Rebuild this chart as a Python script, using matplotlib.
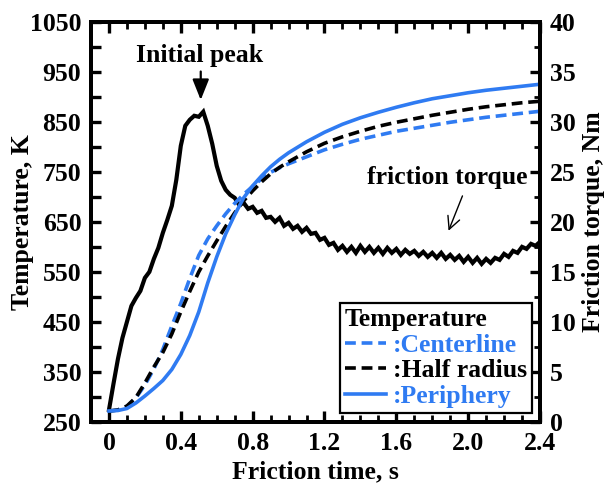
import numpy as np
import matplotlib
matplotlib.use("Agg")
import matplotlib.pyplot as plt
from matplotlib.ticker import MultipleLocator

plt.rcParams['font.family'] = ['Liberation Serif', 'DejaVu Serif']
plt.rcParams['font.weight'] = 'bold'
plt.rcParams['axes.labelweight'] = 'bold'
FS = 18.5
plt.rcParams['font.size'] = FS

BLUE = '#2F7BF2'

# ---- temperature data (K) ----
temp_time = [0.0, 0.05, 0.1, 0.15, 0.2, 0.25, 0.3, 0.35, 0.4, 0.45, 0.5, 0.55, 0.6,
             0.65, 0.7, 0.75, 0.8, 0.85, 0.9, 0.95, 1.0, 1.1, 1.2, 1.3, 1.4, 1.5,
             1.6, 1.7, 1.8, 1.9, 2.0, 2.1, 2.2, 2.3, 2.4]
centerline = [272, 274, 281, 298, 324, 356, 395, 442, 487, 537, 583, 616, 642,
              666, 687, 705, 721, 736, 749, 758, 766, 780, 794, 805, 815, 823,
              831, 837, 843, 849, 854, 859, 863, 867, 871]
half_radius = [272, 274, 282, 299, 328, 360, 389, 426, 470, 511, 550, 582, 612,
               641, 668, 692, 712, 730, 746, 759, 770, 790, 807, 820, 831, 841,
               849, 856, 863, 869, 875, 880, 884, 888, 891]
periphery = [272, 273, 277, 288, 302, 317, 333, 355, 385, 423, 470, 528, 580,
             626, 664, 698, 722, 742, 760, 775, 788, 810, 829, 845, 858, 869,
             879, 888, 896, 902, 908, 913, 917, 921, 925]

# ---- friction torque (Nm), sampled every 0.025 s ----
torque_nm = [1.2, 3.8, 6.3, 8.4, 10.0, 11.6, 12.4, 13.1, 14.4, 15.0,
             16.3, 17.4, 18.9, 20.2, 21.6, 24.2, 27.6, 29.6, 30.2, 30.6,
             30.5, 31.0, 29.6, 27.8, 25.6, 24.1, 23.2, 22.7, 22.4, 21.7,
             21.9, 21.3, 21.5, 20.9, 21.1, 20.4, 20.5, 20.0, 20.4, 19.6,
             19.9, 19.3, 19.6, 19.0, 19.4, 18.8, 18.9, 18.2, 18.4, 17.7,
             17.9, 17.2, 17.6, 17.0, 17.5, 16.9, 17.6, 17.0, 17.5, 16.9,
             17.4, 16.8, 17.4, 16.9, 17.3, 16.7, 17.2, 16.8, 17.1, 16.6,
             17.0, 16.5, 16.9, 16.4, 16.9, 16.3, 16.7, 16.2, 16.6, 16.0,
             16.5, 15.9, 16.4, 15.8, 16.3, 15.9, 16.4, 16.2, 16.8, 16.5,
             17.1, 16.9, 17.5, 17.3, 17.8, 17.6, 18.0]
torque_time = np.linspace(0.0, 2.4, len(torque_nm))

x_ticks = [0, 0.4, 0.8, 1.2, 1.6, 2.0, 2.4]
x_ticklabels = ['0', '0.4', '0.8', '1.2', '1.6', '2.0', '2.4']
temp_ticks = [250, 350, 450, 550, 650, 750, 850, 950, 1050]

fig = plt.figure(figsize=(6.09, 4.86), dpi=100)
ax = fig.add_axes([91/609, 1 - 422/486, 449/609, 400.3/486])
ax2 = ax.twinx()

ax2.plot(torque_time, torque_nm, color='black', lw=3.0, solid_joinstyle='miter')

l1, = ax.plot(temp_time, centerline, color=BLUE, lw=2.6, dashes=(3.0, 1.6))
l2, = ax.plot(temp_time, half_radius, color='black', lw=2.6, dashes=(3.0, 1.6))
l3, = ax.plot(temp_time, periphery, color=BLUE, lw=2.6)

ax.set_zorder(ax2.get_zorder() + 1)
ax.patch.set_visible(False)

ax.set_xlim(-0.1, 2.4)
ax.set_ylim(250, 1050)
ax2.set_ylim(0, 40)

ax.set_xticks(x_ticks)
ax.set_xticklabels(x_ticklabels)
ax.xaxis.set_minor_locator(MultipleLocator(0.1))
ax.set_yticks(temp_ticks)
ax.yaxis.set_minor_locator(MultipleLocator(50))
ax2.yaxis.set_major_locator(MultipleLocator(5))
ax2.yaxis.set_minor_locator(MultipleLocator(2.5))

for a in (ax, ax2):
    for s in a.spines.values():
        s.set_linewidth(2.8)
ax.tick_params(axis='x', which='both', direction='in', top=True, bottom=True)
ax.tick_params(axis='x', which='major', length=8, width=2.4, pad=7)
ax.tick_params(axis='x', which='minor', length=5, width=2.0)
ax.tick_params(axis='y', which='both', direction='in', right=False, length=7, width=2.4, pad=7)
ax2.tick_params(axis='y', which='major', direction='in', length=7, width=2.4, pad=7)
ax2.tick_params(axis='y', which='minor', direction='in', length=4, width=2.0)

ax.set_xlabel('Friction time, s')
ax.set_ylabel('Temperature, K')
ax2.set_ylabel('Friction torque, Nm')
ax.xaxis.set_label_coords(0.5, -0.095)
ax.yaxis.set_label_coords(-0.127, 0.5)
ax2.yaxis.set_label_coords(1.094, 0.5)

# annotations
ax.annotate('', xy=(0.511, 888), xytext=(0.511, 956),
            arrowprops=dict(arrowstyle='-|>,head_length=0.45,head_width=0.18',
                            color='black', lw=1.6, mutation_scale=28))
ax.text(0.506, 970, 'Initial peak', ha='center', va='baseline')
ax.annotate('', xy=(1.885, 627), xytext=(1.974, 707),
            arrowprops=dict(arrowstyle='->,head_length=0.5,head_width=0.25',
                            color='black', lw=1.0, mutation_scale=18))
ax.text(1.881, 726, 'friction torque', ha='center', va='baseline')

font_props = {'family': ['Liberation Serif', 'DejaVu Serif'], 'weight': 'bold', 'size': FS}
leg = ax.legend([l1, l2, l3], [':Centerline', ':Half radius', ':Periphery'],
                title='Temperature', alignment='left',
                title_fontproperties=font_props,
                loc='lower right', bbox_to_anchor=(0.982, 0.022),
                frameon=True, fancybox=False, framealpha=1, edgecolor='black',
                handlelength=1.6, handletextpad=0.25, labelspacing=0.1,
                borderpad=0.2, borderaxespad=0.0,
                labelcolor=[BLUE, 'black', BLUE],
                prop=font_props)
leg.get_frame().set_linewidth(1.6)

fig.savefig('out.png', dpi=100)
